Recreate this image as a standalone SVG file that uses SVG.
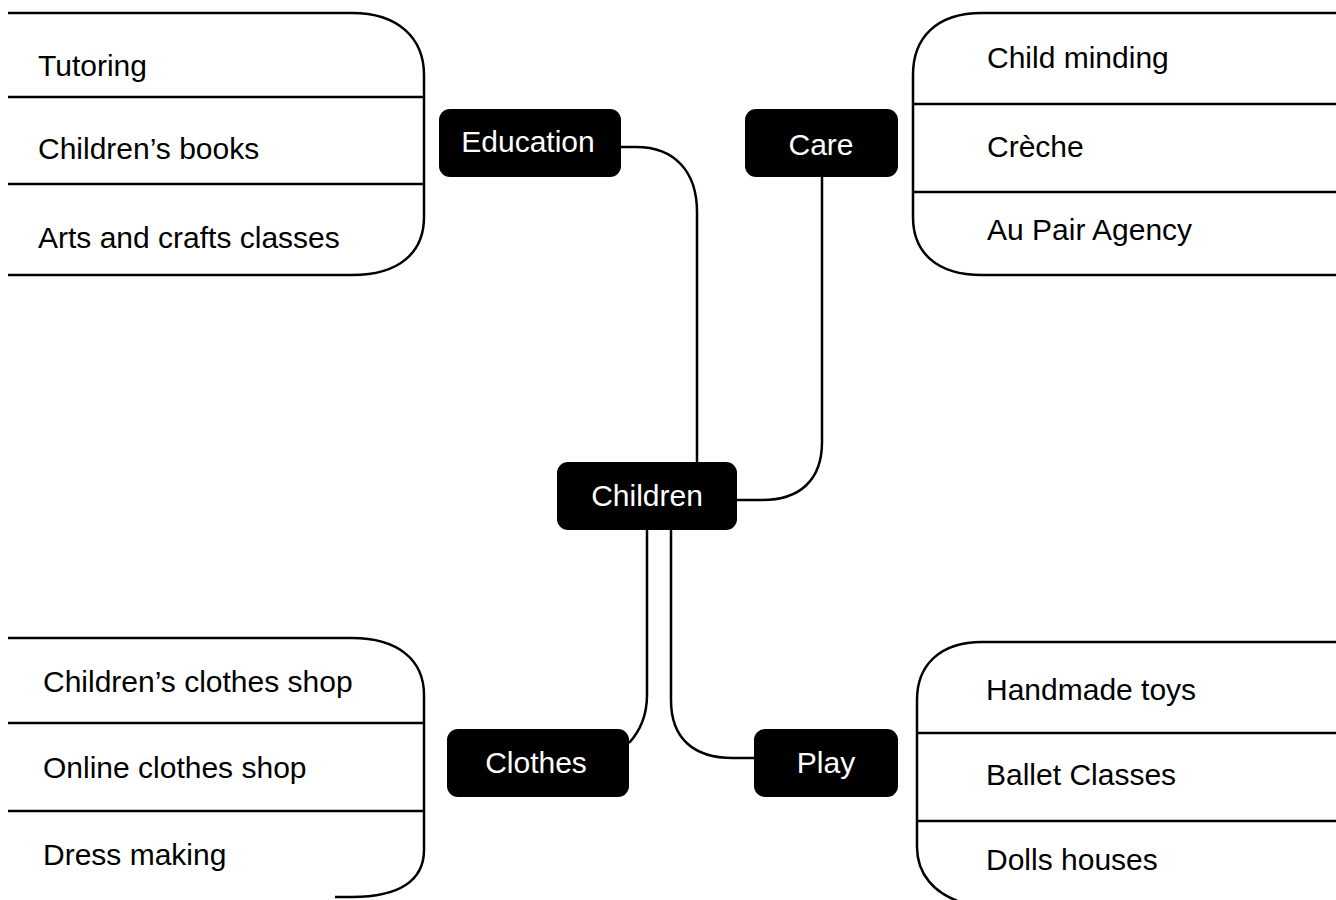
<svg xmlns="http://www.w3.org/2000/svg" width="1336" height="900" viewBox="0 0 1336 900">
<style>
.ln{fill:none;stroke:#000;stroke-width:2.5}
.it{font-family:"Liberation Sans",Arial,sans-serif;font-size:30px;fill:#000}
.nd{fill:#000}
.nt{font-family:"Liberation Sans",Arial,sans-serif;font-size:30px;fill:#fff;text-anchor:middle}
</style>
<rect width="1336" height="900" fill="#fff"/>
<g id="connectors" class="ln">
<path d="M621,147 H636 C675,147 697,172 697,212 V462"/>
<path d="M822,177 V442 C822,480 800,500 762,500 H737"/>
<path d="M647,530 V695 C647,715 641,730 629,743"/>
<path d="M671,530 V700 C671,738 693,758 733,758 H754"/>
</g>
<g id="list-education">
<path class="ln" d="M8,13 H352 C398,13 424,38 424,75 V217 C424,252 400,275 352,275 H8"/>
<path class="ln" d="M8,97 H424 M8,184 H424"/>
<text class="it" x="38" y="76">Tutoring</text>
<text class="it" x="38" y="159">Children’s books</text>
<text class="it" x="38" y="248">Arts and crafts classes</text>
</g>
<g id="list-care">
<path class="ln" d="M1336,13 H982 C936,13 913,38 913,75 V217 C913,252 936,275 982,275 H1336"/>
<path class="ln" d="M913,104 H1336 M913,192 H1336"/>
<text class="it" x="987" y="68">Child minding</text>
<text class="it" x="987" y="157">Crèche</text>
<text class="it" x="987" y="240">Au Pair Agency</text>
</g>
<g id="list-clothes">
<path class="ln" d="M8,638 H352 C398,638 424,660 424,695 V850 C424,880 400,897 352,897 H335"/>
<path class="ln" d="M8,723 H424 M8,811 H424"/>
<text class="it" x="43" y="692">Children’s clothes shop</text>
<text class="it" x="43" y="778">Online clothes shop</text>
<text class="it" x="43" y="865">Dress making</text>
</g>
<g id="list-play">
<path class="ln" d="M1336,642 H982 C940,642 917,665 917,700 V847 C917,875 935,893 960,902"/>
<path class="ln" d="M917,733 H1336 M917,821 H1336"/>
<text class="it" x="986" y="700">Handmade toys</text>
<text class="it" x="986" y="785">Ballet Classes</text>
<text class="it" x="986" y="870">Dolls houses</text>
</g>
<g id="node-education">
<rect class="nd" x="439" y="109" width="182" height="68" rx="11"/>
<text class="nt" x="528" y="152">Education</text>
</g>
<g id="node-care">
<rect class="nd" x="745" y="109" width="153" height="68" rx="11"/>
<text class="nt" x="821" y="155">Care</text>
</g>
<g id="node-children">
<rect class="nd" x="557" y="462" width="180" height="68" rx="11"/>
<text class="nt" x="647" y="506">Children</text>
</g>
<g id="node-clothes">
<rect class="nd" x="447" y="729" width="182" height="68" rx="11"/>
<text class="nt" x="536" y="773">Clothes</text>
</g>
<g id="node-play">
<rect class="nd" x="754" y="729" width="144" height="68" rx="11"/>
<text class="nt" x="826" y="773">Play</text>
</g>
</svg>
